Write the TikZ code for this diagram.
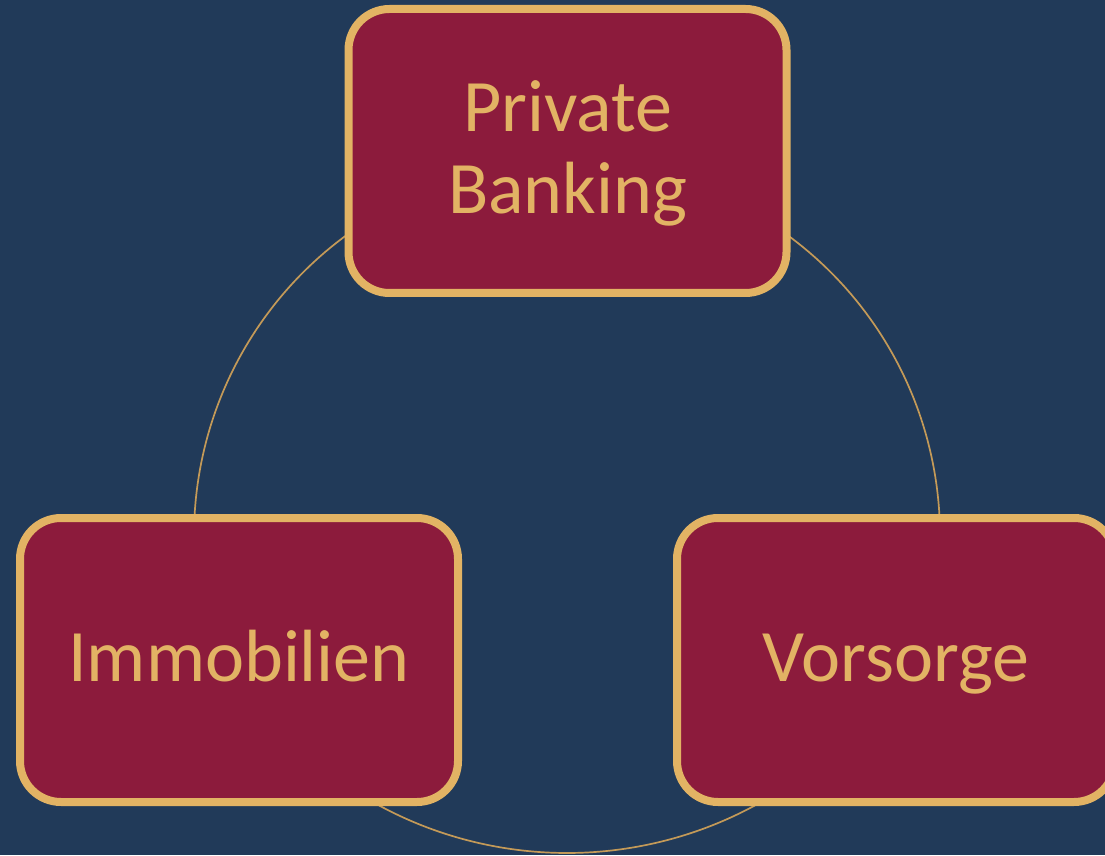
\documentclass[tikz,border=0pt]{standalone}
\usepackage{fontspec}
\setmainfont{Carlito}
\usetikzlibrary{shadows}
\definecolor{bgblue}{HTML}{213A59}
\definecolor{crimson}{HTML}{8C1B3C}
\definecolor{goldc}{HTML}{E2B364}
\definecolor{ringc}{HTML}{C49A58}
\begin{document}
\begin{tikzpicture}[x=1pt,y=1pt,
  cyclebox/.style={draw=goldc, line width=8pt, fill=crimson, rounded corners=41pt,
    minimum width=438pt, minimum height=284pt, inner sep=0pt, text=goldc,
    font=\fontsize{74}{81.6}\selectfont, align=center,
    drop shadow={shadow xshift=1.5pt, shadow yshift=-3pt, opacity=0.35, fill=black}},
  ring/.style={draw=ringc, line width=1.7pt}]
\useasboundingbox (0,0) rectangle (1105,855);
\clip (0,0) rectangle (1105,855);
\fill[bgblue] (0,0) rectangle (1105,855);
\coordinate (c1) at (567,319);
\coordinate (c2) at (567,397);
\draw[ring] (c1) ++(120:373) arc[start angle=120, end angle=180, radius=373];
\draw[ring] (c1) ++(60:373) arc[start angle=60, end angle=0, radius=373];
\draw[ring] (c2) ++(235:395) arc[start angle=235, end angle=305, radius=395];
\node[cyclebox, text height=133.2pt, text depth=8.6pt] (pb) at (567.5,704) {Private\\Banking};
\node[cyclebox, text height=52pt, text depth=8.6pt] (im) at (239,195) {Immobilien};
\node[cyclebox, text height=52pt, text depth=8.6pt] (vs) at (896,195) {Vorsorge};
\end{tikzpicture}
\end{document}
